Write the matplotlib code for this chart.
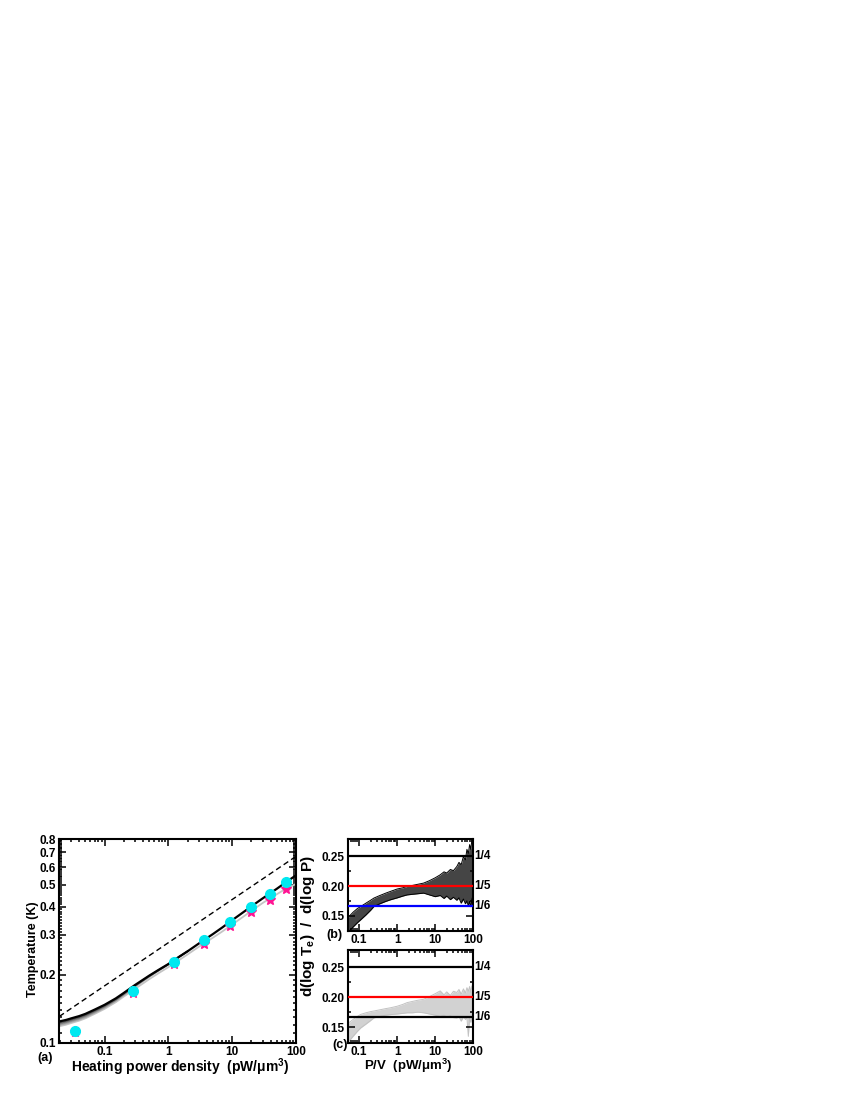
import matplotlib
matplotlib.use('Agg')
import matplotlib.pyplot as plt
from matplotlib.ticker import FixedLocator, NullFormatter, FixedFormatter, LogLocator

plt.rcParams['font.family'] = ['Liberation Sans', 'DejaVu Sans']
plt.rcParams['font.weight'] = 'bold'
plt.rcParams['mathtext.fontset'] = 'custom'
plt.rcParams['mathtext.rm'] = 'Liberation Sans:bold'
plt.rcParams['mathtext.it'] = 'Liberation Sans:bold'
plt.rcParams['mathtext.bf'] = 'Liberation Sans:bold'
plt.rcParams['mathtext.default'] = 'rm'

# ---------------- data: panel (a) ----------------
P_line = [0.0195, 0.025, 0.03, 0.04, 0.05, 0.07, 0.1, 0.15, 0.2, 0.3, 0.5, 0.7, 1, 1.5, 2,
          3, 5, 7, 10, 15, 20, 30, 50, 70, 100]
T_black = [0.124, 0.126, 0.128, 0.131, 0.134, 0.140, 0.147, 0.157, 0.166, 0.180, 0.198, 0.210, 0.223,
           0.241, 0.254, 0.275, 0.303, 0.324, 0.349, 0.379, 0.402, 0.436, 0.481, 0.515, 0.552]
T_gray = [0.118, 0.120, 0.122, 0.125, 0.128, 0.134, 0.141, 0.151, 0.160, 0.173, 0.191, 0.203, 0.216,
          0.233, 0.246, 0.266, 0.292, 0.311, 0.334, 0.362, 0.384, 0.416, 0.455, 0.482, 0.505]
P_fan = [0.0195, 0.025, 0.03, 0.04, 0.05, 0.07, 0.1, 0.15, 0.2, 0.3, 0.5, 0.7, 1, 1.5, 2]
T_mid1 = [0.1225, 0.1245, 0.1265, 0.1295, 0.1325, 0.1385, 0.1456, 0.1557, 0.1648, 0.1790, 0.1972,
          0.2094, 0.2226, 0.2408, 0.2540]
T_mid2 = [0.1210, 0.1230, 0.1250, 0.1280, 0.1310, 0.1370, 0.1442, 0.1544, 0.1636, 0.1780, 0.1964,
          0.2088, 0.2222, 0.2406, 0.2540]
T_mid3 = [0.1195, 0.1215, 0.1235, 0.1265, 0.1295, 0.1355, 0.1428, 0.1531, 0.1624, 0.1770, 0.1956,
          0.2082, 0.2218, 0.2404, 0.2540]
P_dash = [0.0195, 100]
T_dash = [0.1305, 0.67]
P_pts = [0.034, 0.28, 1.22, 3.67, 9.27, 19.8, 39.4, 70.2]
T_circ = [0.112, 0.169, 0.227, 0.284, 0.341, 0.398, 0.455, 0.514]
T_star = [0.111, 0.166, 0.222, 0.275, 0.328, 0.381, 0.431, 0.480]

# ---------------- data: panels (b), (c) band envelopes ----------------
P_env = [0.05, 0.055, 0.07, 0.09, 0.11, 0.15, 0.2, 0.245, 0.35, 0.5, 0.668, 1.0, 1.4, 1.82, 2.5,
         3.5, 4.96, 7, 10, 13.5, 17, 20, 25, 30, 36.9, 42, 48, 55, 62, 68, 74, 80, 86, 92, 100]
b_up = [0.146, 0.149, 0.156, 0.162, 0.1654, 0.171, 0.176, 0.1797, 0.184, 0.188, 0.191, 0.195, 0.197,
        0.1993, 0.201, 0.203, 0.205, 0.209, 0.214, 0.219, 0.224, 0.222, 0.228, 0.226, 0.233, 0.240,
        0.236, 0.250, 0.244, 0.262, 0.255, 0.270, 0.262, 0.279, 0.272]
b_lo = [0.122, 0.124, 0.131, 0.138, 0.143, 0.151, 0.159, 0.1654, 0.170, 0.174, 0.1768, 0.180, 0.183,
        0.185, 0.186, 0.187, 0.188, 0.185, 0.182, 0.184, 0.179, 0.183, 0.177, 0.181, 0.176, 0.180,
        0.171, 0.178, 0.170, 0.175, 0.166, 0.174, 0.165, 0.178, 0.185]
c_up = [0.155, 0.158, 0.163, 0.168, 0.1713, 0.174, 0.176, 0.177, 0.179, 0.181, 0.1824, 0.185, 0.188,
        0.191, 0.193, 0.195, 0.1966, 0.201, 0.206, 0.2106, 0.204, 0.209, 0.203, 0.210, 0.208, 0.213,
        0.205, 0.214, 0.207, 0.216, 0.210, 0.218, 0.208, 0.219, 0.213]
c_lo = [0.124, 0.127, 0.135, 0.143, 0.1487, 0.155, 0.161, 0.1655, 0.168, 0.170, 0.171, 0.172, 0.173,
        0.174, 0.174, 0.175, 0.174, 0.172, 0.170, 0.168, 0.170, 0.167, 0.169, 0.166, 0.1655, 0.168,
        0.160, 0.167, 0.163, 0.166, 0.1346, 0.165, 0.158, 0.166, 0.163]

ref_vals = [0.25, 0.20, 1 / 6]
ref_labels = ['1/4', '1/5', '1/6']
b_colors = ['black', 'red', 'blue']
c_colors = ['black', 'red', 'black']

W, H = 850, 1100
fig = plt.figure(figsize=(8.5, 11), dpi=100)


def fx(px):
    return px / W


def fy(py):
    return 1 - py / H


def style(ax):
    for s in ax.spines.values():
        s.set_linewidth(1.5)
    ax.tick_params(which='both', direction='in', top=True, right=True, width=1.1, labelsize=8.5, pad=2.5)
    ax.tick_params(which='major', length=5)
    ax.tick_params(which='minor', length=2.5)


# ---- panel (a) ----
axa = fig.add_axes([fx(59.3), fy(1042.5), fx(296 - 59.3), (1042.5 - 839) / H])
axa.set_xscale('log')
axa.set_yscale('log')
axa.set_xlim(0.0195, 100)
axa.set_ylim(0.1, 0.8)
axa.plot(P_line, T_gray, color='#c4c4c4', lw=1.3, zorder=2)
for T, c in [(T_mid3, '#a4a4a4'), (T_mid2, '#7c7c7c'), (T_mid1, '#4c4c4c')]:
    axa.plot(P_fan, T, color=c, lw=1.2, zorder=2)
axa.plot(P_line, T_black, color='black', lw=1.6, zorder=2)
axa.plot(P_dash, T_dash, color='black', lw=1.0, ls=(0, (4, 2.5)), zorder=2)
axa.plot(P_pts, T_star, ls='none', marker='*', ms=7, color='#ff1493', zorder=3)
axa.plot(P_pts, T_circ, ls='none', marker='o', ms=7, color='#00e8f0', zorder=4)
style(axa)
yt = [0.1, 0.2, 0.3, 0.4, 0.5, 0.6, 0.7, 0.8]
axa.yaxis.set_major_locator(FixedLocator(yt))
axa.yaxis.set_major_formatter(FixedFormatter(['0.1', '0.2', '0.3', '0.4', '0.5', '0.6', '0.7', '0.8']))
minors = [round(0.1 + 0.01 * i, 2) for i in range(71)]
minors = [m for m in minors if m not in yt]
axa.yaxis.set_minor_locator(FixedLocator(minors))
axa.yaxis.set_minor_formatter(NullFormatter())
axa.xaxis.set_major_locator(FixedLocator([0.1, 1, 10, 100]))
axa.xaxis.set_major_formatter(FixedFormatter(['0.1', '1', '10', '100']))
axa.xaxis.set_minor_locator(LogLocator(base=10, subs=range(2, 10), numticks=20))
axa.xaxis.set_minor_formatter(NullFormatter())

fig.text(fx(33), fy(949), 'Temperature (K)', rotation=90, ha='center', va='center', fontsize=9, fontweight='bold')
fig.text(fx(180), fy(1067), 'Heating power density  (pW/\u03bcm$^3$)', ha='center', va='center', fontsize=10, fontweight='bold')
fig.text(fx(45), fy(1058), '(a)', ha='center', va='center', fontsize=9, fontweight='bold')


def panel(rect, up, lo, fillc, linec, colors):
    ax = fig.add_axes(rect)
    ax.set_xscale('log')
    ax.set_xlim(0.05, 100)
    ax.set_ylim(0.124, 0.279)
    ax.fill_between(P_env, lo, up, color=fillc, lw=0, zorder=1)
    ax.plot(P_env, up, color=linec, lw=0.7, zorder=1)
    ax.plot(P_env, lo, color=linec, lw=0.7, zorder=1)
    for v, c, lab in zip(ref_vals, colors, ref_labels):
        ax.axhline(v, color=c, lw=1.6, zorder=3)
        ax.text(1.01, v, lab, transform=ax.get_yaxis_transform(), ha='left', va='center',
                fontsize=8.5, fontweight='bold')
    style(ax)
    ax.yaxis.set_major_locator(FixedLocator([0.15, 0.20, 0.25]))
    ax.yaxis.set_major_formatter(FixedFormatter(['0.15', '0.20', '0.25']))
    ax.yaxis.set_minor_locator(FixedLocator([0.175, 0.225]))
    ax.yaxis.set_minor_formatter(NullFormatter())
    ax.xaxis.set_major_locator(FixedLocator([0.1, 1, 10, 100]))
    ax.xaxis.set_major_formatter(FixedFormatter(['0.1', '1', '10', '100']))
    ax.xaxis.set_minor_locator(LogLocator(base=10, subs=range(2, 10), numticks=20))
    ax.xaxis.set_minor_formatter(NullFormatter())
    return ax


axb = panel([fx(347.7), fy(931), fx(473.3 - 347.7), (931 - 839.3) / H], b_up, b_lo, '#454545', 'black', b_colors)
axc = panel([fx(347.7), fy(1042.7), fx(473.3 - 347.7), (1042.7 - 950) / H], c_up, c_lo, '#d2d2d2', '#c2c2c2', c_colors)

fig.text(fx(334), fy(935), '(b)', ha='center', va='center', fontsize=9, fontweight='bold')
fig.text(fx(340), fy(1045), '(c)', ha='center', va='center', fontsize=9, fontweight='bold')
fig.text(fx(308), fy(926), 'd(log T$_e$)  /  d(log P)', rotation=90, ha='center', va='center', fontsize=11, fontweight='bold')
fig.text(fx(408), fy(1066), 'P/V  (pW/\u03bcm$^3$)', ha='center', va='center', fontsize=9.5, fontweight='bold')

fig.savefig('out.png', dpi=100)
